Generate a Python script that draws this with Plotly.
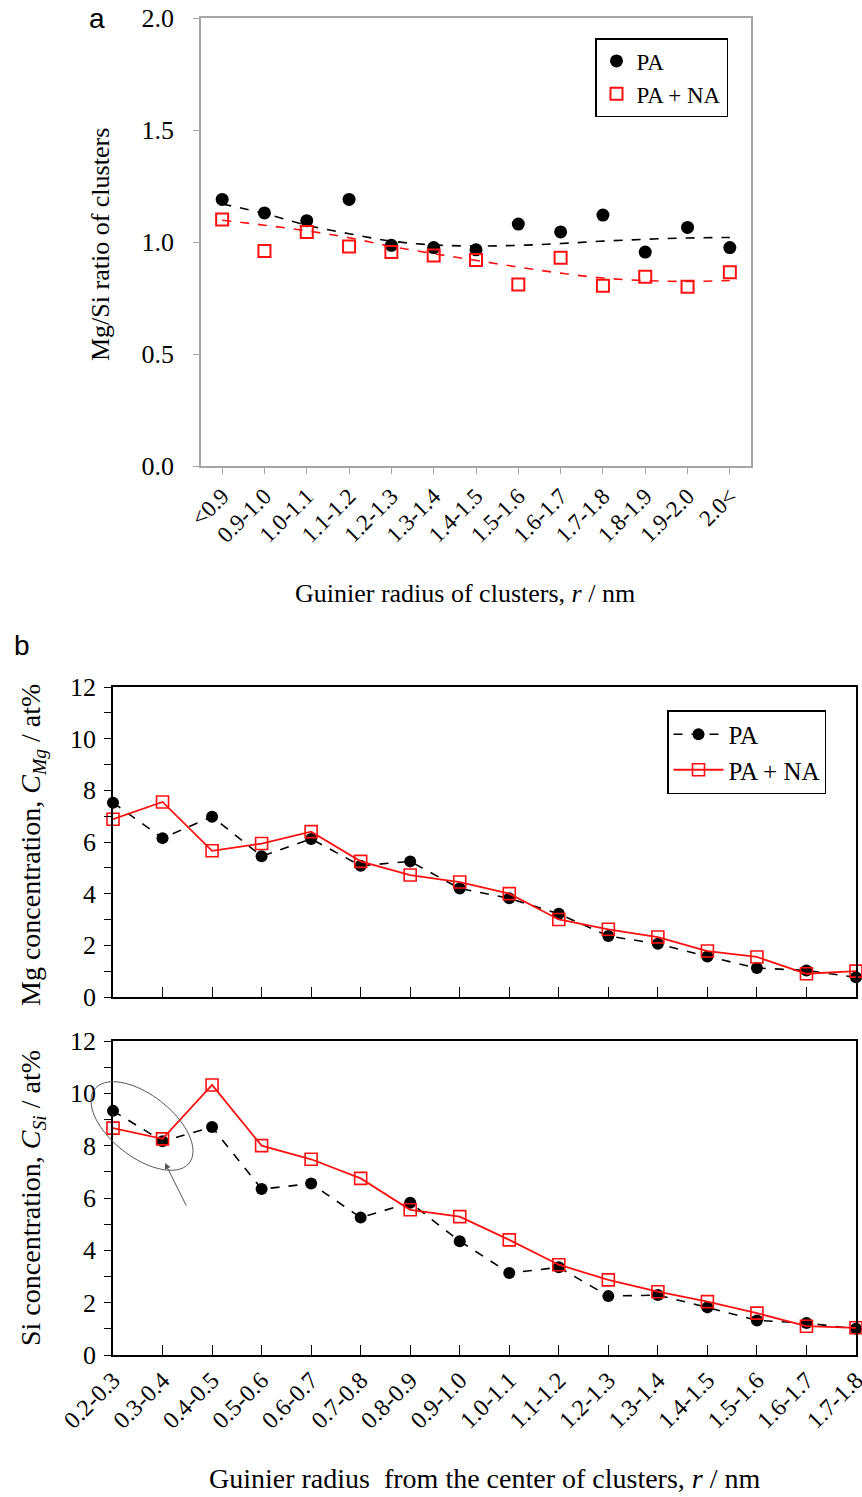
import numpy as np
import plotly.graph_objects as go

W, H = 862, 1497

# ---------------- data ----------------
cats_a = ["<0.9", "0.9-1.0", "1.0-1.1", "1.1-1.2", "1.2-1.3", "1.3-1.4", "1.4-1.5",
          "1.5-1.6", "1.6-1.7", "1.7-1.8", "1.8-1.9", "1.9-2.0", "2.0<"]
ratio_pa = [1.19, 1.13, 1.095, 1.19, 0.985, 0.975, 0.965, 1.08, 1.045, 1.12, 0.955, 1.065, 0.975]
ratio_pana = [1.10, 0.96, 1.045, 0.98, 0.955, 0.94, 0.92, 0.81, 0.93, 0.805, 0.845, 0.80, 0.865]
# trend lines
trend_pa = [1.17, 1.127, 1.075, 1.037, 1.004, 0.987, 0.982, 0.985, 0.993, 1.004, 1.012, 1.018, 1.02]
trend_pana = [1.097, 1.075, 1.050, 1.019, 0.98, 0.948, 0.918, 0.888, 0.861, 0.839, 0.828, 0.824, 0.828]

cats_b = ["0.2-0.3", "0.3-0.4", "0.4-0.5", "0.5-0.6", "0.6-0.7", "0.7-0.8", "0.8-0.9", "0.9-1.0",
          "1.0-1.1", "1.1-1.2", "1.2-1.3", "1.3-1.4", "1.4-1.5", "1.5-1.6", "1.6-1.7", "1.7-1.8"]
mg_pa = [7.52, 6.15, 6.98, 5.45, 6.12, 5.08, 5.25, 4.2, 3.82, 3.22, 2.36, 2.06, 1.57, 1.12, 1.03, 0.76]
mg_pana = [6.88, 7.55, 5.66, 5.94, 6.40, 5.25, 4.72, 4.45, 4.00, 3.00, 2.62, 2.32, 1.78, 1.55, 0.90, 1.00]
si_pa = [9.33, 8.17, 8.71, 6.34, 6.55, 5.25, 5.82, 4.35, 3.13, 3.35, 2.25, 2.29, 1.82, 1.32, 1.22, 1.00]
si_pana = [8.67, 8.26, 10.32, 8.00, 7.48, 6.75, 5.55, 5.29, 4.40, 3.45, 2.87, 2.42, 2.04, 1.60, 1.10, 1.04]

# ---------------- layout helpers (screen pixel -> paper) ----------------
def px(x):
    return x / W

def py(y):
    return 1 - y / H

SERIF = "Liberation Serif"
RED = "#ff1010"

fig = go.Figure()

# ---- panel a ----
xa = list(range(len(cats_a)))
fig.add_trace(go.Scatter(x=xa, y=trend_pa, mode="lines", showlegend=False, line_shape="spline",
                         line=dict(color="black", width=1.6, dash="dash"),
                         xaxis="x", yaxis="y", hoverinfo="skip"))
fig.add_trace(go.Scatter(x=xa, y=trend_pana, mode="lines", showlegend=False, line_shape="spline",
                         line=dict(color=RED, width=1.6, dash="dash"),
                         xaxis="x", yaxis="y", hoverinfo="skip"))
fig.add_trace(go.Scatter(x=xa, y=ratio_pa, mode="markers", name="PA",
                         marker=dict(symbol="circle", size=13, color="black"),
                         xaxis="x", yaxis="y", legend="legend", cliponaxis=False))
fig.add_trace(go.Scatter(x=xa, y=ratio_pana, mode="markers", name="PA + NA",
                         marker=dict(symbol="square-open", size=12, color=RED, line=dict(width=2)),
                         xaxis="x", yaxis="y", legend="legend", cliponaxis=False))

# ---- panel b ----
xb = list(range(len(cats_b)))
fig.add_trace(go.Scatter(x=xb, y=mg_pa, mode="lines+markers", name="PA",
                         line=dict(color="black", width=1.6, dash="dash"),
                         marker=dict(symbol="circle", size=12, color="black"),
                         xaxis="x2", yaxis="y2", legend="legend2", cliponaxis=False))
fig.add_trace(go.Scatter(x=xb, y=mg_pana, mode="lines+markers", name="PA + NA",
                         line=dict(color=RED, width=1.8),
                         marker=dict(symbol="square-open", size=12, color=RED, line=dict(width=1.6)),
                         xaxis="x2", yaxis="y2", legend="legend2", cliponaxis=False))
fig.add_trace(go.Scatter(x=xb, y=si_pa, mode="lines+markers", name="PA", showlegend=False,
                         line=dict(color="black", width=1.6, dash="dash"),
                         marker=dict(symbol="circle", size=12, color="black"),
                         xaxis="x3", yaxis="y3", cliponaxis=False))
fig.add_trace(go.Scatter(x=xb, y=si_pana, mode="lines+markers", name="PA + NA", showlegend=False,
                         line=dict(color=RED, width=1.8),
                         marker=dict(symbol="square-open", size=12, color=RED, line=dict(width=1.6)),
                         xaxis="x3", yaxis="y3", cliponaxis=False))

GRAY = "#a6a6a6"

layout = dict(
    width=W, height=H,
    margin=dict(l=0, r=0, t=0, b=0, autoexpand=False),
    paper_bgcolor="white", plot_bgcolor="white",
    font=dict(family=SERIF, size=22, color="black"),
    xaxis=dict(domain=[px(201), px(751)], range=[-0.5, len(cats_a) - 0.5], automargin=False,
               tickmode="array", tickvals=xa, ticktext=cats_a, tickangle=-45,
               ticks="outside", ticklen=6, tickcolor=GRAY, showline=True, linecolor=GRAY,
               linewidth=1.5, mirror=True, showgrid=False, zeroline=False, ticklabeloverflow="allow",
               tickfont=dict(family=SERIF, size=23, color="black"), anchor="y"),
    yaxis=dict(domain=[py(466), py(18)], range=[0, 2], dtick=0.5, tickformat=".1f", automargin=False,
               ticks="outside", ticklen=6, tickcolor=GRAY, showline=True, linecolor=GRAY,
               linewidth=1.5, mirror=True, showgrid=False, zeroline=False, ticklabeloverflow="allow",
               ticklabelstandoff=14, tickfont=dict(family=SERIF, size=26, color="black"), anchor="x"),
    xaxis2=dict(domain=[px(113), px(856)], range=[0, len(cats_b) - 1], automargin=False,
                tickmode="array", tickvals=xb, ticktext=cats_b, showticklabels=False,
                ticks="inside", ticklen=10, tickcolor="black", showline=True, linecolor="black",
                linewidth=1.5, mirror=True, showgrid=False, zeroline=False, anchor="y2"),
    yaxis2=dict(domain=[py(997), py(687)], range=[0, 12], dtick=2, automargin=False,
                ticks="outside", ticklen=7, tickcolor="black", showline=True, linecolor="black",
                linewidth=1.5, mirror=True, showgrid=False, zeroline=False, ticklabeloverflow="allow",
                minor=dict(dtick=1, ticks="outside", ticklen=7, tickcolor="black"),
                ticklabelstandoff=3, tickfont=dict(family=SERIF, size=26, color="black"), anchor="x2"),
    xaxis3=dict(domain=[px(113), px(856)], range=[0, len(cats_b) - 1], automargin=False,
                tickmode="array", tickvals=xb, ticktext=cats_b, tickangle=-45,
                ticks="inside", ticklen=10, tickcolor="black", showline=True, linecolor="black",
                linewidth=1.5, mirror=True, showgrid=False, zeroline=False, ticklabeloverflow="allow",
                tickfont=dict(family=SERIF, size=24, color="black"), anchor="y3"),
    yaxis3=dict(domain=[py(1355), py(1041)], range=[0, 12], dtick=2, automargin=False,
                ticks="outside", ticklen=7, tickcolor="black", showline=True, linecolor="black",
                linewidth=1.5, mirror=True, showgrid=False, zeroline=False, ticklabeloverflow="allow",
                minor=dict(dtick=1, ticks="outside", ticklen=7, tickcolor="black"),
                ticklabelstandoff=3, tickfont=dict(family=SERIF, size=26, color="black"), anchor="x3"),
    legend=dict(x=px(728), y=py(38), xanchor="right", yanchor="top",
                bordercolor="black", borderwidth=1.5, bgcolor="white",
                font=dict(family=SERIF, size=23, color="black"), tracegroupgap=0,
                itemwidth=30),
    legend2=dict(x=px(826), y=py(710), xanchor="right", yanchor="top",
                 bordercolor="black", borderwidth=1.5, bgcolor="white",
                 font=dict(family=SERIF, size=25, color="black"), tracegroupgap=0,
                 itemwidth=50),
    showlegend=True,
)
fig.update_layout(**layout)

# ---- text annotations (panel letters, axis titles) ----
ann = [
    dict(text="a", x=px(97), y=py(18), font=dict(family="Liberation Sans", size=28)),
    dict(text="b", x=px(22), y=py(645), font=dict(family="Liberation Sans", size=28)),
    dict(text="Mg/Si ratio of clusters", x=px(100), y=py(245), textangle=-90,
         font=dict(family=SERIF, size=26)),
    dict(text="Guinier radius of clusters, <i>r</i> / nm", x=px(465), y=py(593),
         font=dict(family=SERIF, size=26)),
    dict(text="Mg concentration, <i>C</i><sub><i>Mg</i></sub> / at%", x=px(32), y=py(845),
         textangle=-90, font=dict(family=SERIF, size=28)),
    dict(text="Si concentration, <i>C</i><sub><i>Si</i></sub> / at%", x=px(32), y=py(1198),
         textangle=-90, font=dict(family=SERIF, size=28)),
    dict(text="Guinier radius \u00a0from the center of clusters, <i>r</i> / nm", x=px(485), y=py(1478),
         font=dict(family=SERIF, size=28)),
]
for a in ann:
    a.update(xref="paper", yref="paper", showarrow=False, xanchor="center", yanchor="middle")
    fig.add_annotation(**a)

# arrow pointing to the ellipse (tail offset in pixels)
fig.add_annotation(x=px(165), y=py(1163), ax=22, ay=44, xref="paper", yref="paper",
                   text="", showarrow=True, arrowhead=2,
                   arrowsize=1.2, arrowwidth=1, arrowcolor="#555555")

# tilted ellipse around the first two Si points
cx, cy, a_, b_, ang = 142, 1126, 60, 31, np.deg2rad(38)
t = np.linspace(0, 2 * np.pi, 80)
ex = cx + a_ * np.cos(t) * np.cos(ang) - b_ * np.sin(t) * np.sin(ang)
ey = cy + a_ * np.cos(t) * np.sin(ang) + b_ * np.sin(t) * np.cos(ang)
path = "M " + " L ".join(f"{px(x_):.5f},{py(y_):.5f}" for x_, y_ in zip(ex, ey)) + " Z"
fig.add_shape(type="path", path=path, xref="paper", yref="paper",
              line=dict(color="#555555", width=1))

# remove the default page margin so the figure fills the window exactly
fig.write_html("out.html", config={"displayModeBar": False},
               post_script="document.body.style.margin='0';")
